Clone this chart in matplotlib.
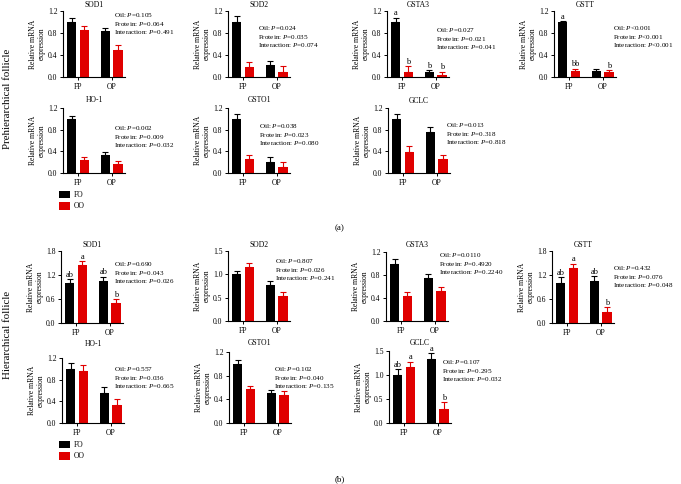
import matplotlib
matplotlib.use("Agg")
import matplotlib.pyplot as plt
from matplotlib.patches import Patch
from matplotlib.ticker import FormatStrFormatter, MultipleLocator

plt.rcParams['font.family'] = ['Liberation Serif', 'DejaVu Serif']
plt.rcParams['mathtext.fontset'] = 'custom'
plt.rcParams['mathtext.rm'] = 'Liberation Serif'
plt.rcParams['mathtext.it'] = 'Liberation Serif:italic'

# ---------------- data ----------------
groups = ["FP", "OP"]
series = ["FO", "OO"]
genes = ["SOD1", "SOD2", "GSTA3", "GSTT", "HO-1", "GSTO1", "GCLC"]

# Prehierarchical follicle (a)
pre_fo_mean = [[1.00, 0.83], [1.00, 0.21], [1.00, 0.09], [1.00, 0.11], [1.00, 0.33], [1.00, 0.20], [1.00, 0.75]]
pre_fo_err = [[0.07, 0.07], [0.10, 0.09], [0.08, 0.04], [0.02, 0.03], [0.06, 0.06], [0.08, 0.09], [0.08, 0.09]]
pre_oo_mean = [[0.86, 0.50], [0.18, 0.10], [0.10, 0.03], [0.11, 0.10], [0.24, 0.16], [0.25, 0.12], [0.39, 0.25]]
pre_oo_err = [[0.07, 0.08], [0.09, 0.10], [0.10, 0.07], [0.04, 0.03], [0.06, 0.06], [0.09, 0.09], [0.10, 0.09]]
pre_ymax = [1.2, 1.2, 1.2, 1.2, 1.2, 1.2, 1.2]
pre_ystep = [0.4, 0.4, 0.4, 0.4, 0.4, 0.4, 0.4]
pre_p = [("=0.105", "=0.064", "=0.491"), ("=0.024", "=0.035", "=0.074"),
         ("=0.027", "=0.021", "=0.041"), ("<0.001", "<0.001", "<0.001"),
         ("=0.002", "=0.009", "=0.032"), ("=0.038", "=0.023", "=0.080"),
         ("=0.013", "=0.318", "=0.818")]
pre_fo_letters = [["", ""], ["", ""], ["a", "b"], ["a", ""], ["", ""], ["", ""], ["", ""]]
pre_oo_letters = [["", ""], ["", ""], ["b", "b"], ["bb", "b"], ["", ""], ["", ""], ["", ""]]

# Hierarchical follicle (b)
hier_fo_mean = [[1.00, 1.05], [1.00, 0.77], [1.00, 0.74], [1.00, 1.06], [1.00, 0.56], [1.00, 0.50], [1.00, 1.33]]
hier_fo_err = [[0.10, 0.11], [0.08, 0.09], [0.07, 0.07], [0.15, 0.11], [0.10, 0.11], [0.06, 0.06], [0.12, 0.12]]
hier_oo_mean = [[1.45, 0.49], [1.15, 0.53], [0.44, 0.52], [1.37, 0.28], [0.96, 0.33], [0.57, 0.48], [1.17, 0.30]]
hier_oo_err = [[0.10, 0.11], [0.09, 0.09], [0.07, 0.07], [0.11, 0.12], [0.11, 0.11], [0.06, 0.06], [0.11, 0.13]]
hier_ymax = [1.8, 1.5, 1.2, 1.8, 1.2, 1.2, 1.5]
hier_ystep = [0.6, 0.5, 0.4, 0.6, 0.4, 0.4, 0.5]
hier_p = [("=0.690", "=0.043", "=0.026"), ("=0.807", "=0.026", "=0.241"),
          ("=0.0110", "=0.4920", "=0.2240"), ("=0.432", "=0.076", "=0.048"),
          ("=0.557", "=0.036", "=0.665"), ("=0.102", "=0.040", "=0.135"),
          ("=0.107", "=0.295", "=0.032")]
hier_fo_letters = [["ab", "ab"], ["", ""], ["", ""], ["ab", "ab"], ["", ""], ["", ""], ["ab", "a"]]
hier_oo_letters = [["a", "b"], ["", ""], ["", ""], ["a", "b"], ["", ""], ["", ""], ["a", "b"]]

# ---------------- layout (pixels) ----------------
W, H = 681, 484
FS = 5.5
FS_ANN = 5.1
LINE = 8.6
BLACK = "#000000"
RED = "#E00000"

pre_left = [63, 228, 387, 554, 63, 228, 388]
pre_top = [11, 11, 11, 11, 108, 108, 108]
pre_bot = [77, 77, 77, 77, 173, 173, 173]
pre_title_y = [5, 5, 5, 5, 100, 100, 101]
pre_ann = [(114, 15), (258, 28), (436, 30), (613, 28), (114, 128), (259, 126), (446, 125)]

hier_left = [61, 228, 386, 552, 62, 229, 389]
hier_top = [251, 251, 252, 251, 358, 352, 351]
hier_bot = [323, 321, 321, 323, 423, 423, 423]
hier_title_y = [245, 245, 245, 245, 344, 343, 343]
hier_ann = [(114, 264), (275, 261), (439, 255), (613, 268), (114, 369), (274, 369), (442, 362)]

AX_W = 62

fig = plt.figure(figsize=(W / 100, H / 100), dpi=100)


def draw_panel(i, left, top, bot, title_y, ann, fo_m, fo_e, oo_m, oo_e, ymax, ystep, pv, fo_l, oo_l):
    ax = fig.add_axes([left / W, 1 - bot / H, AX_W / W, (bot - top) / H])
    xs = list(range(len(groups)))
    off, bw = 0.19, 0.28
    for k, (m, e, col, lets) in enumerate([(fo_m, fo_e, BLACK, fo_l), (oo_m, oo_e, RED, oo_l)]):
        xp = [x + (-off if k == 0 else off) for x in xs]
        ax.bar(xp, m, width=bw, color=col, zorder=2)
        ax.errorbar(xp, m, yerr=[[0] * len(m), e], fmt='none', ecolor=col,
                    elinewidth=0.8, capsize=2.2, capthick=0.8, zorder=3)
        for x, mm, ee, lt in zip(xp, m, e, lets):
            if lt:
                ax.text(x, mm + ee + ymax * 0.005, lt, ha='center', va='bottom',
                        fontsize=6, clip_on=False)
    ax.set_xlim(-0.45, 1.40)
    ax.set_ylim(0, ymax)
    ax.yaxis.set_major_locator(MultipleLocator(ystep))
    ax.yaxis.set_major_formatter(FormatStrFormatter('%.1f'))
    ax.set_xticks(xs)
    ax.set_xticklabels(groups)
    for s in ['top', 'right']:
        ax.spines[s].set_visible(False)
    for s in ['left', 'bottom']:
        ax.spines[s].set_linewidth(0.8)
    ax.tick_params(labelsize=FS, length=2.5, width=0.7, pad=1.5)
    ax.set_ylabel("Relative mRNA\nexpression", fontsize=FS, labelpad=1.5, linespacing=1.1)
    fig.text((left + AX_W / 2) / W, 1 - title_y / H, genes[i], ha='center', va='center', fontsize=FS)
    labels = ["Oil: $P$", "Protein: $P$", "Interaction: $P$"]
    for j, (lab, p) in enumerate(zip(labels, pv)):
        fig.text(ann[0] / W, 1 - (ann[1] + j * LINE) / H, lab + p, ha='left', va='center', fontsize=FS_ANN)
    return ax


pre_axes = []
for i in range(len(genes)):
    pre_axes.append(draw_panel(i, pre_left[i], pre_top[i], pre_bot[i], pre_title_y[i], pre_ann[i],
                               pre_fo_mean[i], pre_fo_err[i], pre_oo_mean[i], pre_oo_err[i],
                               pre_ymax[i], pre_ystep[i], pre_p[i], pre_fo_letters[i], pre_oo_letters[i]))
hier_axes = []
for i in range(len(genes)):
    hier_axes.append(draw_panel(i, hier_left[i], hier_top[i], hier_bot[i], hier_title_y[i], hier_ann[i],
                                hier_fo_mean[i], hier_fo_err[i], hier_oo_mean[i], hier_oo_err[i],
                                hier_ymax[i], hier_ystep[i], hier_p[i], hier_fo_letters[i], hier_oo_letters[i]))

handles = [Patch(facecolor=BLACK, label=series[0]), Patch(facecolor=RED, label=series[1])]
for ly in (189, 439):
    fig.legend(handles=handles, loc='upper left', bbox_to_anchor=(57 / W, 1 - ly / H),
               frameon=False, fontsize=FS, handlelength=1.45, handleheight=1.1,
               handletextpad=0.5, labelspacing=0.45, borderpad=0.2, borderaxespad=0)

fig.text(8 / W, 1 - 99 / H, "Prehierarchical follicle", rotation=90, ha='center', va='center', fontsize=7.8)
fig.text(8 / W, 1 - 335 / H, "Hierarchical follicle", rotation=90, ha='center', va='center', fontsize=7.8)
fig.text(340 / W, 1 - 228 / H, "(a)", ha='center', va='center', fontsize=6.5)
fig.text(340 / W, 1 - 479 / H, "(b)", ha='center', va='center', fontsize=6.5)

fig.savefig("out.png", dpi=100)
